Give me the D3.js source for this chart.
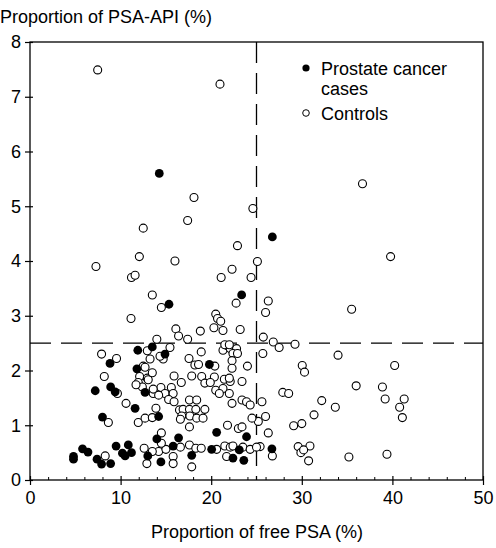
<!DOCTYPE html>
<meta charset="utf-8">
<html>
<head>
<style>
  body { margin: 0; background: #fff; }
  text { font-family: "Liberation Sans", Arial, sans-serif; }
</style>
</head>
<body>
<div id="chart"></div>
<script src="https://d3js.org/d3.v7.min.js"></script>
<script>

  // Prostate cancer cases: [free PSA %, PSA-API %]
  var cases = [
    [14.27,5.60],[26.75,4.44],[23.36,3.38],[15.34,3.21],[13.5,2.43],[14.9,2.30],[19.8,2.11],
    [11.9,2.37],[8.83,2.13],[11.8,2.03],[7.2,1.63],[8.9,1.70],[9.4,1.61],[11.6,1.31],[12.7,1.60],
    [8.0,1.15],[14.2,1.16],[20.6,0.87],[23.9,0.79],[14.0,0.75],[16.4,0.77],[15.8,0.62],
    [13.0,0.44],[14.45,0.33],[17.85,0.45],[20.05,0.56],[23.1,0.55],[22.4,0.40],[23.6,0.36],
    [26.7,0.57],[4.8,0.43],[4.8,0.38],[5.8,0.57],[6.4,0.51],[7.4,0.38],[7.9,0.29],[8.9,0.30],
    [9.5,0.62],[10.2,0.49],[10.85,0.64],[11.2,0.50],[10.5,0.44]
  ];

  // Controls
  var controls = [
    [7.47,7.49],[20.97,7.23],[36.7,5.41],[18.1,5.16],[24.6,4.96],[17.4,4.74],[12.5,4.60],
    [22.9,4.28],[12.07,4.08],[16.0,4.0],[25.1,3.99],[39.8,4.08],[7.28,3.90],[22.3,3.85],
    [11.2,3.70],[11.6,3.74],[21.1,3.70],[24.4,3.70],[13.5,3.38],[14.5,3.15],[22.75,3.23],
    [26.3,3.27],[26.0,3.06],[35.5,3.12],[11.15,2.95],[20.5,3.03],[20.7,2.95],[21.05,2.90],
    [20.3,2.78],[21.3,2.73],[23.2,2.75],[18.8,2.72],[16.1,2.76],[16.4,2.63],[17.4,2.57],
    [14.0,2.57],[25.75,2.61],[26.85,2.52],[27.5,2.42],[29.25,2.48],
    [25.7,2.31],[34.0,2.28],[7.9,2.30],[9.55,2.22],[12.95,2.36],[15.45,2.42],[13.25,2.21],
    [14.7,2.21],[14.35,2.26],[12.5,2.08],[18.9,2.34],[17.55,2.22],[18.2,2.10],[18.6,2.11],
    [21.3,2.37],[21.8,2.45],[22.1,2.40],[22.8,2.40],[22.4,2.31],[22.9,2.31],[22.3,2.18],
    [22.3,2.04],[24.0,2.08],[21.5,2.47],[22.0,2.47],[20.4,2.08],[30.05,2.09],[30.3,1.97],
    [40.25,2.09],[12.7,2.06],
    [15.9,1.90],[16.7,1.78],[17.85,1.90],[18.95,1.89],[19.3,1.77],[20.35,1.88],[21.45,1.84],
    [22.1,1.80],[23.4,1.80],[14.45,1.69],[15.6,1.69],[8.2,1.89],[12.1,1.89],[12.95,1.86],
    [11.95,1.78],[12.4,1.70],[13.05,1.83],[11.7,1.74],[13.5,1.96],[19.9,1.78],[20.5,1.64],
    [21.3,1.67],[20.9,1.58],[22.0,1.86],[22.0,1.58],[13.6,1.58],[14.9,1.58],[14.2,1.55],
    [15.8,1.58],[15.3,1.47],[15.9,1.43],[13.6,1.66],
    [36.0,1.72],[38.9,1.70],[27.9,1.60],[28.55,1.58],[39.2,1.48],[41.3,1.48],[40.8,1.33],
    [41.1,1.14],[32.2,1.45],[33.7,1.33],[31.35,1.19],[25.6,1.43],[26.0,1.16],[25.2,1.07],
    [26.3,0.86],[29.1,0.99],[30.0,1.03],
    [9.65,1.58],[10.6,1.40],[8.65,1.05],[11.95,1.05],[12.7,1.13],[13.5,1.14],[13.9,1.31],
    [22.3,1.40],[23.4,1.46],[23.9,1.43],[24.3,1.37],[16.5,1.28],[17.6,1.46],[18.4,1.46],
    [16.9,1.29],[17.6,1.29],[18.3,1.29],[19.3,1.29],[16.75,1.17],[17.65,1.17],[18.4,1.13],
    [19.1,1.13],[16.6,1.11],[17.6,0.97],[21.8,1.00],[23.0,0.94],[23.4,0.97],[24.5,1.13],
    [14.5,0.86],
    [29.6,0.61],[30.9,0.62],[29.9,0.50],[30.2,0.55],[30.75,0.35],[26.75,0.44],[25.4,0.61],
    [35.2,0.42],[39.4,0.47],
    [8.3,0.44],[12.6,0.58],[12.9,0.30],[14.2,0.52],[13.5,0.52],[15.0,0.56],[14.5,0.67],
    [15.8,0.43],[16.6,0.60],[17.6,0.64],[18.3,0.58],[18.9,0.58],[20.6,0.56],[21.5,0.62],
    [22.1,0.60],[22.4,0.62],[23.5,0.60],[24.3,0.56],[25.0,0.60],[15.8,0.30],[17.85,0.24],
    [21.7,0.43]
  ];

  var xTicks = [0, 10, 20, 30, 40, 50];
  var xMinor = [2, 4, 6, 8, 12, 14, 16, 18, 22, 24, 26, 28, 32, 34, 36, 38, 42, 44, 46, 48];
  var yTicks = [0, 1, 2, 3, 4, 5, 6, 7, 8];
  var cutX = 25, cutY = 2.5;

  var W = 496, H = 548;
  var svg = d3.select("#chart").append("svg")
    .attr("width", W).attr("height", H);

  var x = d3.scaleLinear().domain([0, 50]).range([30, 483]);
  var y = d3.scaleLinear().domain([0, 8]).range([480, 42]);

  // frame
  svg.append("rect")
    .attr("x", x(0)).attr("y", y(8))
    .attr("width", x(50) - x(0)).attr("height", y(0) - y(8))
    .attr("fill", "none").attr("stroke", "#000").attr("stroke-width", 1.3);

  // x axis, major
  var gx = svg.append("g")
    .attr("transform", "translate(0," + y(0) + ")")
    .call(d3.axisBottom(x).tickValues(xTicks).tickSize(5).tickPadding(6).tickFormat(d3.format("d")));
  gx.select(".domain").remove();
  gx.selectAll(".tick line").attr("y1", -4).attr("stroke-width", 1.2);
  gx.selectAll("text").attr("font-size", 18).attr("fill", "#000")
    .attr("font-family", "Liberation Sans, Arial, sans-serif");

  // x axis, minor
  var gm = svg.append("g")
    .attr("transform", "translate(0," + y(0) + ")")
    .call(d3.axisBottom(x).tickValues(xMinor).tickSize(-3).tickFormat(""));
  gm.select(".domain").remove();

  // y axis
  var gy = svg.append("g")
    .attr("transform", "translate(" + x(0) + ",0)")
    .call(d3.axisLeft(y).tickValues(yTicks).tickSize(5).tickPadding(4).tickFormat(d3.format("d")));
  gy.select(".domain").remove();
  gy.selectAll(".tick line").attr("x1", 3).attr("stroke-width", 1.2);
  gy.selectAll("text").attr("font-size", 18).attr("fill", "#000")
    .attr("font-family", "Liberation Sans, Arial, sans-serif");

  // cut-off lines
  svg.append("line")
    .attr("x1", x(cutX)).attr("x2", x(cutX)).attr("y1", y(8)).attr("y2", y(0))
    .attr("stroke", "#000").attr("stroke-width", 1.3).attr("stroke-dasharray", "21,10");
  svg.append("line")
    .attr("x1", x(0)).attr("x2", x(50)).attr("y1", y(cutY)).attr("y2", y(cutY))
    .attr("stroke", "#000").attr("stroke-width", 1.3).attr("stroke-dasharray", "21,10");

  // points
  svg.append("g").selectAll("circle")
    .data(controls).enter().append("circle")
      .attr("cx", function(d) { return x(d[0]); })
      .attr("cy", function(d) { return y(d[1]); })
      .attr("r", 4)
      .attr("fill", "#fff").attr("stroke", "#000").attr("stroke-width", 1.1);

  svg.append("g").selectAll("circle")
    .data(cases).enter().append("circle")
      .attr("cx", function(d) { return x(d[0]); })
      .attr("cy", function(d) { return y(d[1]); })
      .attr("r", 4.4)
      .attr("fill", "#000");

  // legend
  var lg = svg.append("g").attr("font-size", 18);
  lg.append("circle").attr("cx", 306).attr("cy", 68).attr("r", 3.6).attr("fill", "#000");
  lg.append("text").attr("x", 321).attr("y", 75).text("Prostate cancer");
  lg.append("text").attr("x", 321).attr("y", 95).text("cases");
  lg.append("circle").attr("cx", 306).attr("cy", 113).attr("r", 3.3)
    .attr("fill", "#fff").attr("stroke", "#000").attr("stroke-width", 1);
  lg.append("text").attr("x", 321).attr("y", 120).text("Controls");

  // axis titles
  svg.append("text").attr("x", 0).attr("y", 23).attr("font-size", 18)
    .text("Proportion of PSA-API (%)");
  svg.append("text").attr("x", 257).attr("y", 538).attr("font-size", 18)
    .attr("text-anchor", "middle").text("Proportion of free PSA (%)");

</script>
</body>
</html>
